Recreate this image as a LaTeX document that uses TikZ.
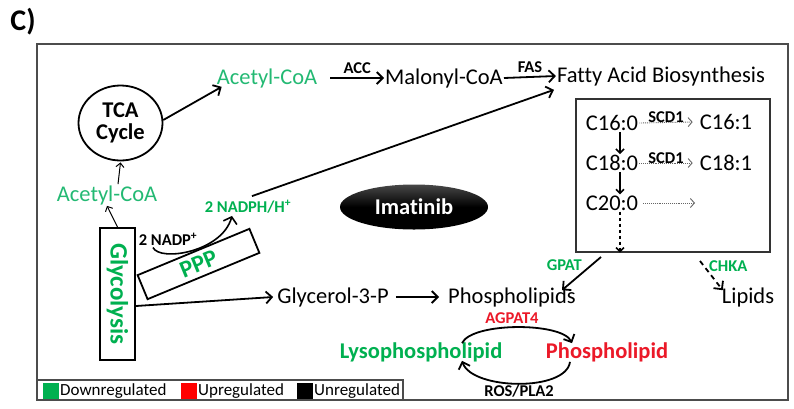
\documentclass[tikz,border=0pt]{standalone}
\usepackage{fontspec}
\setmainfont{Carlito}[Ligatures=CommonOff]
\usetikzlibrary{arrows.meta,shapes.geometric,calc}
\definecolor{dgreen}{RGB}{0,176,80}
\definecolor{tgreen}{RGB}{35,185,115}
\definecolor{dred}{RGB}{235,25,40}
\begin{document}
\begin{tikzpicture}[x=1pt,y=-1pt,
  lab/.style={inner sep=1pt, font=\fontsize{22.5}{24}\selectfont},
  blab/.style={inner sep=1pt, font=\fontsize{22.5}{24}\selectfont\bfseries},
  slab/.style={inner sep=1pt, font=\fontsize{16.5}{17}\selectfont\bfseries},
  arr/.style={line width=1.8pt, -{Straight Barb[length=6pt,width=12pt]}},
  tarr/.style={line width=1pt, -{Straight Barb[length=4pt,width=8pt]}},
  darr/.style={line width=0.9pt, densely dotted, black!60, -{Straight Barb[length=4pt,width=9pt]}},
  boxline/.style={draw, line width=1.8pt},
  legtext/.style={anchor=west, inner sep=0pt, font=\fontsize{17}{18}\selectfont},
]
\useasboundingbox (0,0) rectangle (794,408);
% panel letter
\node[font=\fontsize{30}{32}\selectfont\bfseries, inner sep=0] (letter) at (23,22) {C)};
% frame
\draw[line width=1.5pt, black!70] (37,44) rectangle (788,400);
% legend
\draw[line width=1.2pt, black!70] (37,380) rectangle (403,400);
\fill[dgreen] (43,383) rectangle (59,399);
\node[legtext] (ldown) at (60,391) {Downregulated};
\fill[red] (181,383) rectangle (197,399);
\node[legtext] (lup) at (198,391) {Upregulated};
\fill[black] (297,383) rectangle (313,399);
\node[legtext] (lun) at (314,391) {Unregulated};

% top row
\node[lab, text=tgreen] (acoa1) at (267,78) {Acetyl-CoA};
\node[lab] (mal) at (444,78) {Malonyl-CoA};
\node[lab] (fab) at (661,76) {Fatty Acid Biosynthesis};
\draw[arr] ([xshift=12pt]acoa1.east) -- (mal.west) node[midway, above, slab, yshift=2pt] {ACC};
\draw[arr] (mal.east) -- (fab.west) node[midway, above, slab, yshift=2pt] {FAS};

% TCA
\node[draw, ellipse, line width=1.8pt, minimum width=84, minimum height=75, align=center,
      font=\fontsize{22.5}{24}\selectfont\bfseries, inner sep=0] (tca) at (120.5,123) {TCA\\[-2pt]Cycle};
\draw[arr] (tca.4) -- ([xshift=6pt,yshift=2pt]acoa1.south west);

% lower acetyl-CoA and glycolysis
\node[lab, text=tgreen] (acoa2) at (107,195) {Acetyl-CoA};
\draw[tarr] ([xshift=11pt]acoa2.north) -- ([yshift=-1pt]tca.south);
\node[boxline, minimum width=35, minimum height=132, inner sep=0] (gly) at (117.5,294) {};
\node[rotate=-90, text=dgreen, font=\fontsize{25}{26}\selectfont\bfseries, inner sep=0] (glytxt) at (gly) {Glycolysis};
\draw[tarr] (gly.north) -- (acoa2.south);

% PPP
\node[boxline, rotate=22.5, minimum width=121, minimum height=26, inner sep=0,
      text=dgreen, font=\fontsize{24}{25}\selectfont\bfseries] (ppp) at (198.5,264) {PPP};
\node[slab] (nadp) at (168,239) {2 NADP\textsuperscript{+}};
\node[slab, text=dgreen] (nadph) at (248,207) {2 NADPH/H\textsuperscript{+}};
\draw[line width=1.6pt, -{Straight Barb[length=6pt,width=14pt]}] ([xshift=-15pt,yshift=-1pt]nadp.south) .. controls (160,262) and (222,252) .. ([xshift=-16pt,yshift=-1pt]nadph.south);
\draw[arr] ([xshift=4pt,yshift=3pt]nadph.north) -- ([xshift=-2pt,yshift=-3pt]fab.south west);

% Imatinib
\node[ellipse, top color=black!72, bottom color=black, middle color=black, minimum width=148, minimum height=45, inner sep=0,
      text=white, font=\fontsize{22.5}{24}\selectfont\bfseries] (imat) at (414,207) {Imatinib};

% glycerol / phospholipids
\node[lab] (g3p) at (333,297) {Glycerol-3-P};
\node[lab] (phos) at (512,297) {Phospholipids};
\draw[arr] ([yshift=-12pt]gly.east) -- ([xshift=-3pt]g3p.west);
\draw[arr] ([xshift=6pt]g3p.east) -- ([xshift=-8pt]phos.west);

% fatty acid box
\node[draw, line width=1.4pt, black!80, minimum width=194, minimum height=153, inner sep=0] (fabox) at (673,175.5) {};
\node[lab] (c160) at (612,123) {C16:0};
\node[lab] (c161) at (726,122) {C16:1};
\node[lab] (c180) at (612,163) {C18:0};
\node[lab] (c181) at (726,163) {C18:1};
\node[lab] (c200) at (612,203) {C20:0};
\coordinate (c20end) at (695,203);
\draw[darr] (c160.east) -- ([xshift=-6pt]c161.west) node[midway, above, slab, text=black, yshift=-2pt] {SCD1};
\draw[darr] (c180.east) -- ([xshift=-6pt]c181.west) node[midway, above, slab, text=black, yshift=-2pt] {SCD1};
\draw[darr] ([xshift=4pt]c200.east) -- (c20end);
\draw[tarr, line width=1.6pt] ([xshift=8pt]c160.south) -- ([xshift=8pt]c180.north);
\draw[tarr, line width=1.6pt] ([xshift=8pt]c180.south) -- ([xshift=8pt]c200.north);
\draw[tarr, line width=1.6pt, dashed] ([xshift=8pt]c200.south) -- ([xshift=8pt]c200.south |- fabox.south);

% GPAT / CHKA
\coordinate (gpats) at (601,257);
\draw[arr] (gpats) -- ([xshift=-15pt,yshift=-4pt]phos.north east) ;
\node[slab, text=dgreen, anchor=east] (gpat) at (583,265) {GPAT};
\node[lab] (lipids) at (748,297) {Lipids};
\coordinate (chkas) at (700,261);
\draw[arr, dash pattern=on 5pt off 4pt] (chkas) -- ([xshift=2pt,yshift=-4pt]lipids.north west);
\node[slab, text=dgreen, anchor=west] (chka) at (708,266) {CHKA};

% lysophospholipid cycle
\node[blab, text=dgreen] (lyso) at (421,352) {Lysophospholipid};
\node[blab, text=dred] (pho) at (607,352) {Phospholipid};
\node[slab, text=dred] (agpat) at (512,318) {AGPAT4};
\node[slab] (ros) at (519,391) {ROS/PLA2};
\draw[arr] ([xshift=41pt,yshift=-2pt]lyso.north) .. controls (472,322) and (562,322) .. ([xshift=-35pt,yshift=-2pt]pho.north);
\draw[arr] ([xshift=-37pt,yshift=1pt]pho.south) .. controls (566,392) and (472,390) .. ([xshift=41pt,yshift=2pt]lyso.south);
\end{tikzpicture}
\end{document}
